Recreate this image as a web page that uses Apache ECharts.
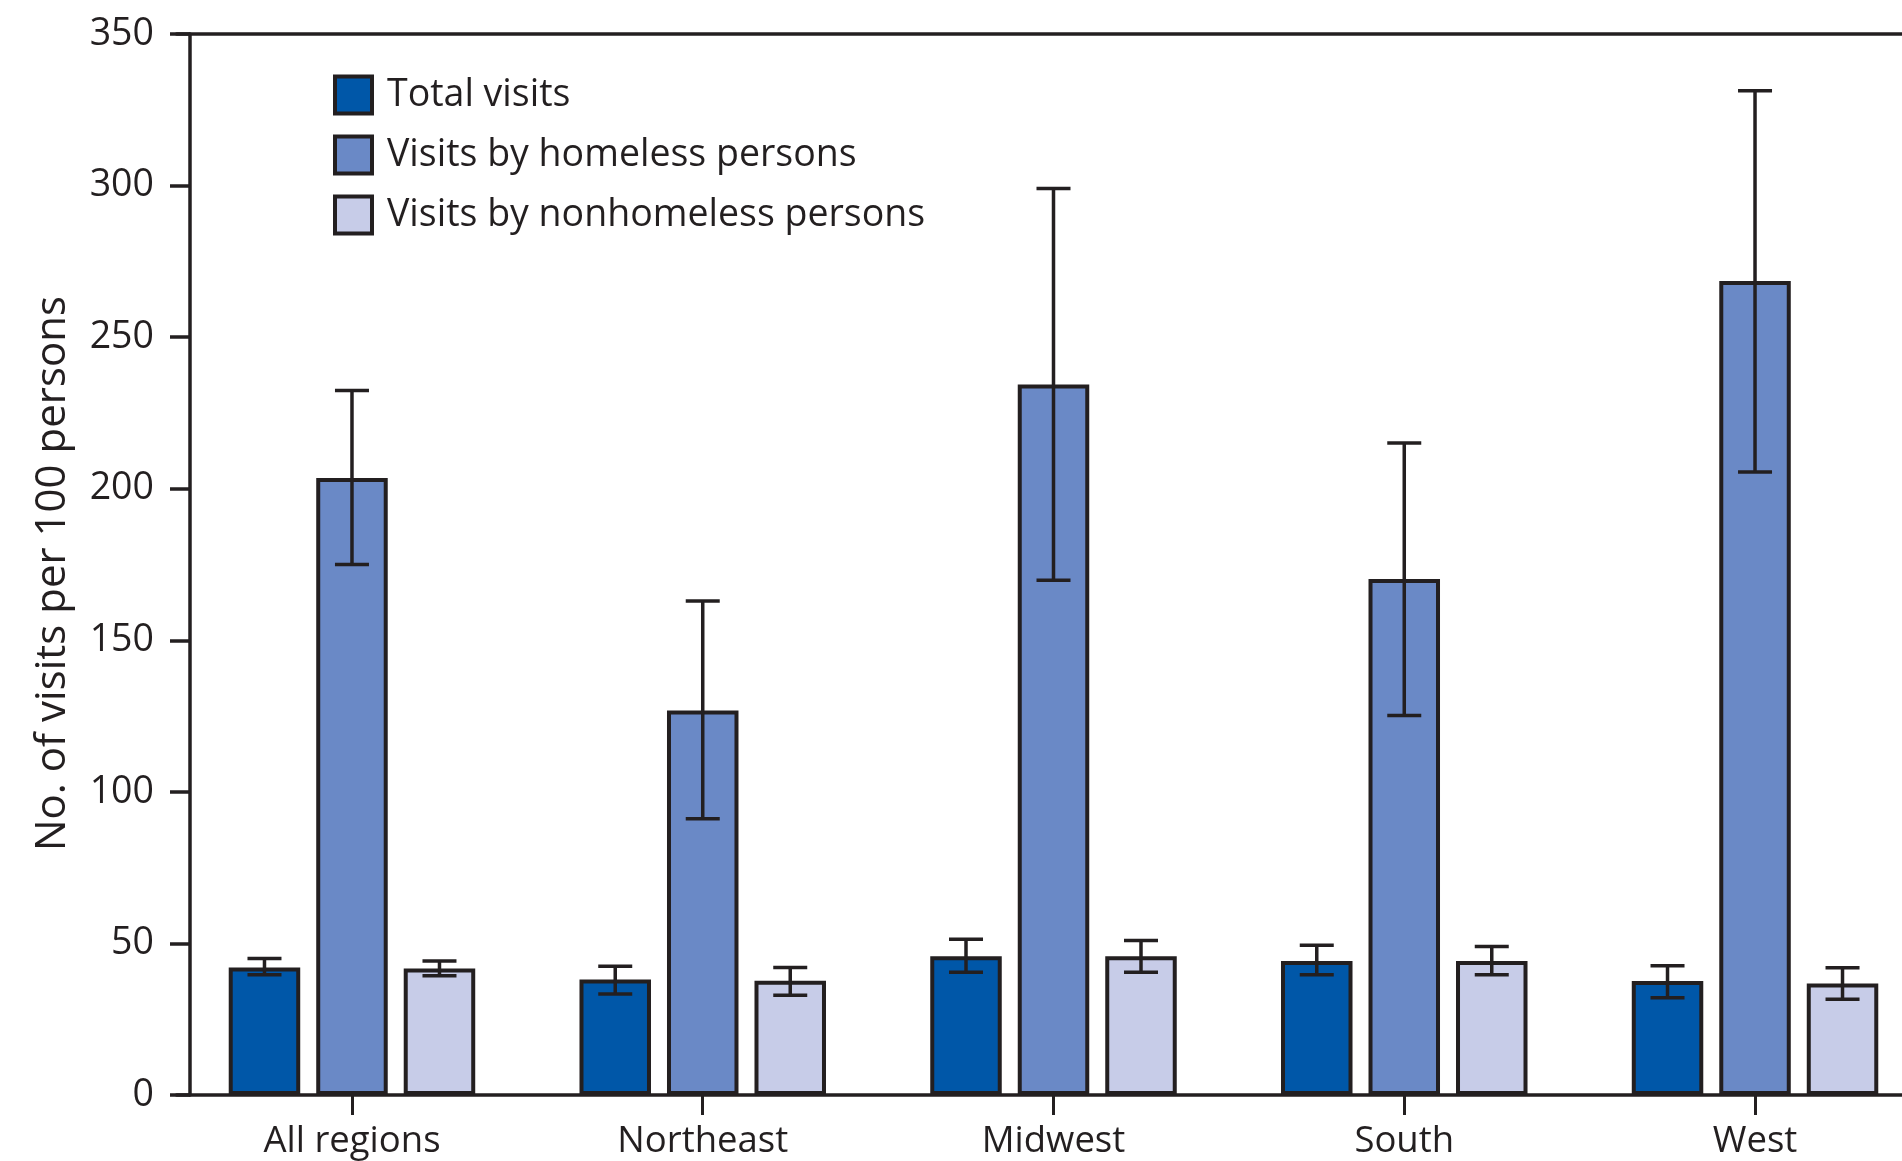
<!DOCTYPE html>
<html>
<head>
<meta charset="utf-8">
<script src="https://cdn.jsdelivr.net/npm/echarts@6/dist/echarts.min.js"></script>
<style>
html,body{margin:0;padding:0;background:#fff;}
#chart{width:1902px;height:1161px;}
</style>
</head>
<body>
<div id="chart"></div>
<script>
var categories = ['All regions', 'Northeast', 'Midwest', 'South', 'West'];
var seriesNames = ['Total visits', 'Visits by homeless persons', 'Visits by nonhomeless persons'];

var totalVisits = [42.1, 38.1, 45.8, 44.2, 37.6];
var totalLow    = [39.7, 33.3, 40.5, 39.7, 32.1];
var totalHigh   = [45.0, 42.5, 51.4, 49.4, 42.6];

var homelessVisits = [203.5, 126.8, 234.4, 170.2, 268.5];
var homelessLow    = [175.0, 91.1, 169.8, 125.2, 205.5];
var homelessHigh   = [232.4, 163.0, 299.0, 215.1, 331.3];

var nonhomelessVisits = [41.7, 37.7, 45.8, 44.2, 36.8];
var nonhomelessLow    = [39.3, 32.9, 40.5, 39.7, 31.6];
var nonhomelessHigh   = [44.2, 42.1, 51.0, 49.0, 42.0];

var yTicks = { min: 0, max: 350, interval: 50 };

var colors = ['#0057a8', '#6a89c6', '#c7cce8'];
var INK = '#231f20';
var BAR_W = 71.5;
var BAR_GAP = 16;
var FONT = '"Open Sans", "Noto Sans", sans-serif';

function errSeries(idx, lows, highs) {
  var data = categories.map(function (c, i) { return [i, lows[i], highs[i]]; });
  var off = (idx - 1) * (BAR_W + BAR_GAP);
  return {
    type: 'custom',
    name: seriesNames[idx] + ' CI',
    xAxisIndex: 0, yAxisIndex: 0,
    z: 10,
    silent: true,
    encode: { x: 0, y: [1, 2] },
    renderItem: function (params, api) {
      var lo = api.coord([api.value(0), api.value(1)]);
      var hi = api.coord([api.value(0), api.value(2)]);
      var x = lo[0] + off;
      var cap = 17;
      var st = { stroke: INK, lineWidth: 3.5 };
      return {
        type: 'group',
        children: [
          { type: 'line', shape: { x1: x, y1: lo[1], x2: x, y2: hi[1] }, style: st },
          { type: 'line', shape: { x1: x - cap, y1: hi[1], x2: x + cap, y2: hi[1] }, style: st },
          { type: 'line', shape: { x1: x - cap, y1: lo[1], x2: x + cap, y2: lo[1] }, style: st }
        ]
      };
    },
    data: data
  };
}

function barSeries(idx, vals) {
  return {
    type: 'bar',
    name: seriesNames[idx],
    xAxisIndex: 0, yAxisIndex: 0,
    barWidth: BAR_W,
    barGap: (BAR_GAP / BAR_W * 100) + '%',
    itemStyle: { color: colors[idx], borderColor: INK, borderWidth: 4 },
    z: 2,
    data: vals
  };
}

var chart = echarts.init(document.getElementById('chart'), null, { renderer: 'canvas' });
chart.setOption({
  animation: false,
  backgroundColor: '#ffffff',
  textStyle: { fontFamily: FONT, color: INK },
  grid: { left: 176.6, width: 1753.8, top: 34, height: 1061, containLabel: false, outerBoundsMode: 'none' },
  legend: {
    show: true,
    orient: 'vertical',
    left: 333, top: 74.5,
    padding: 0,
    itemWidth: 37, itemHeight: 37,
    itemGap: 19,
    icon: 'rect',
    data: seriesNames,
    itemStyle: { borderColor: INK, borderWidth: 4 },
    textStyle: { fontFamily: FONT, fontSize: 37.5, color: INK, lineHeight: 37, padding: [0, 0, 0, 10] }
  },
  xAxis: [{
    type: 'category',
    data: categories,
    position: 'bottom',
    axisLine: { show: true, lineStyle: { color: INK, width: 3.5 } },
    axisTick: { show: true, alignWithLabel: true, length: 20, lineStyle: { color: INK, width: 3 } },
    axisLabel: { show: true, fontFamily: FONT, fontSize: 36.5, color: INK, margin: 28 },
    splitLine: { show: false }
  }, {
    type: 'category',
    data: categories,
    position: 'top',
    axisLine: { show: true, lineStyle: { color: INK, width: 3.5 } },
    axisTick: { show: false },
    axisLabel: { show: false },
    splitLine: { show: false }
  }],
  yAxis: {
    type: 'value',
    min: yTicks.min, max: yTicks.max, interval: yTicks.interval,
    offset: -13.4,
    name: 'No. of visits per 100 persons',
    nameLocation: 'middle',
    nameRotate: 90,
    nameGap: 115.5,
    nameTextStyle: { fontFamily: FONT, fontSize: 42, color: INK, padding: [0, 18, 0, 0] },
    axisLine: { show: true, lineStyle: { color: INK, width: 3.5 } },
    axisTick: { show: true, length: 20, lineStyle: { color: INK, width: 3.5 } },
    axisLabel: { fontFamily: FONT, fontSize: 37.5, color: INK, margin: 36, padding: [10, 0, 0, 0] },
    splitLine: { show: false }
  },
  series: [
    barSeries(0, totalVisits),
    barSeries(1, homelessVisits),
    barSeries(2, nonhomelessVisits),
    errSeries(0, totalLow, totalHigh),
    errSeries(1, homelessLow, homelessHigh),
    errSeries(2, nonhomelessLow, nonhomelessHigh)
  ]
});
</script>
</body>
</html>
